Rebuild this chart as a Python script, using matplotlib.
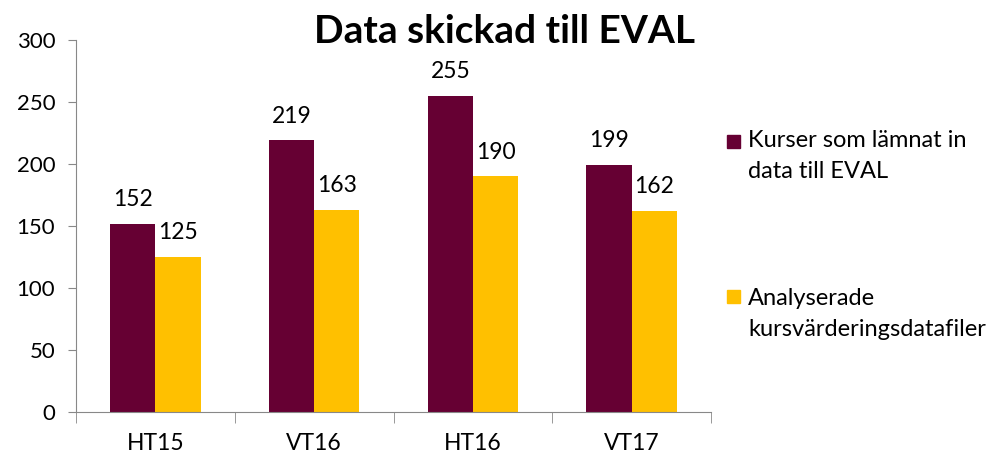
import numpy as np
import matplotlib.pyplot as plt
from matplotlib.patches import Rectangle

plt.rcParams['font.family'] = ['Lato', 'DejaVu Sans']

# ------------------ data ------------------
terms = ["HT15", "VT16", "HT16", "VT17"]
kurser = [152, 219, 255, 199]
analyserade = [125, 163, 190, 162]
series_names = ["Kurser som lämnat in\ndata till EVAL",
                "Analyserade\nkursvärderingsdatafiler"]
colors = ["#660033", "#FFC000"]

# ------------------------------------------
fig = plt.figure(figsize=(10, 4.59), dpi=100)
ax = fig.add_axes([0.076, 0.102, 0.635, 0.811])

x = np.arange(len(terms))
w = 0.285
b1 = ax.bar(x - w / 2, kurser, w, color=colors[0])
b2 = ax.bar(x + w / 2, analyserade, w, color=colors[1])
ax.bar_label(b1, padding=10, fontsize=16.5)
ax.bar_label(b2, padding=10, fontsize=16.5)

ax.set_xlim(-0.5, len(terms) - 0.5)
ax.set_ylim(0, 300)
ax.set_yticks(np.arange(0, 301, 50))
ax.set_xticks(x)
ax.set_xticklabels(terms)
ax.set_xticks(np.arange(-0.5, len(terms)), minor=True)

for s in ["top", "right"]:
    ax.spines[s].set_visible(False)
for s in ["left", "bottom"]:
    ax.spines[s].set_color("#888888")

ax.tick_params(axis="y", length=6, color="#888888", labelsize=16, pad=9)
ax.tick_params(axis="x", which="major", length=0, labelsize=16.5, pad=15)
ax.tick_params(axis="x", which="minor", length=8, color="#888888")

fig.text(0.505, 0.932, "Data skickad till EVAL", ha="center", va="center",
         fontsize=28, fontweight="bold")

# legend, marker aligned with first text line
for name, c, ytop, ybox in zip(series_names, colors, [0.717, 0.373],
                               [0.678, 0.340]):
    fig.patches.append(Rectangle((0.727, ybox), 0.013, 0.028,
                                 transform=fig.transFigure, color=c))
    fig.text(0.748, ytop, name, ha="left", va="top", fontsize=17,
             linespacing=1.62)

fig.savefig("out.png", dpi=100)
